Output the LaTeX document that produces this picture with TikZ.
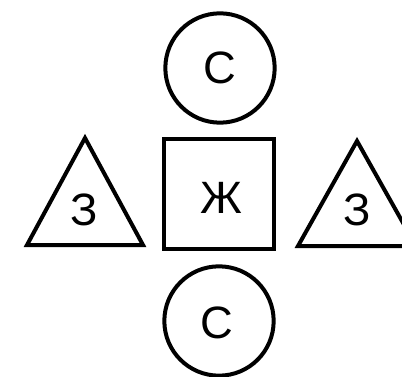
\documentclass[tikz,border=0pt]{standalone}
\usepackage{fontspec}
\setmainfont{Liberation Sans}
\begin{document}
\begin{tikzpicture}[x=0.75pt,y=-0.75pt,
  shapeline/.style={line width=3pt, line join=miter},
  letter/.style={font=\fontsize{34}{36}\selectfont, inner sep=0pt},
  ring/.style={shapeline, draw, circle, minimum size=82pt, inner sep=0pt},
  box/.style={shapeline, draw, rectangle, minimum width=82.5pt, minimum height=82pt, inner sep=0pt}]
\useasboundingbox (0,0) rectangle (402,377);
\clip (0,0) rectangle (402,377);
\node[ring] (ctop) at (220,68) {};
\node[letter] (ltop) at (220,67.5) {С};
\node[box] (sq) at (219,194) {};
\node[letter] (lsq) at (221,197.5) {Ж};
\node[ring] (cbot) at (219,321) {};
\node[letter] (lbot) at (217,322.5) {С};
\draw[shapeline] (85,138) -- (27,245) -- (143,245) -- cycle;
\node[letter] (zl) at (84.5,209.5) {З};
\draw[shapeline] (357,141) -- (298,246) -- (416,246) -- cycle;
\node[letter] (zr) at (357,210) {З};
\end{tikzpicture}
\end{document}
